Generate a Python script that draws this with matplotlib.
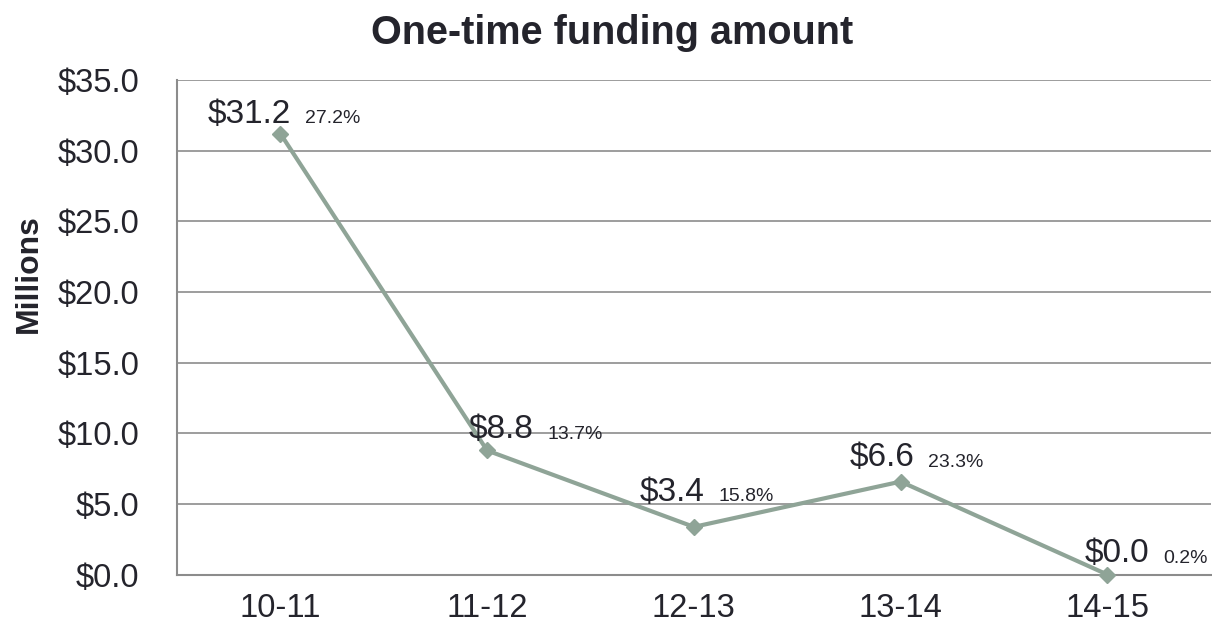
import matplotlib.pyplot as plt
from matplotlib.ticker import FuncFormatter

# One-time funding by fiscal year, in millions of dollars
years = ["10-11", "11-12", "12-13", "13-14", "14-15"]
amounts = [31.2, 8.8, 3.4, 6.6, 0.03]
shares = ["27.2%", "13.7%", "15.8%", "23.3%", "0.2%"]

# label offsets in points (left edge of value text, vertical centre)
label_dx = [-52.5, -13, -39, -37, -16.5]
label_dy = [14, 15, 25, 17, 15]

TEXT = "#24242c"
LINE = "#8fa497"
GRID = "#8c8c8c"

plt.rcParams["font.family"] = ["Liberation Sans", "DejaVu Sans"]

fig = plt.figure(figsize=(12.12, 6.28), dpi=100)
ax = fig.add_axes([0.146, 0.0844, 0.853, 0.7886])

x = list(range(len(years)))
ax.plot(x, amounts, color=LINE, linewidth=3, marker="D", markersize=8,
        zorder=3, clip_on=False)

for i, (v, s) in enumerate(zip(amounts, shares)):
    t = ax.annotate(f"${v:.1f}", (i, v), xytext=(label_dx[i], label_dy[i]),
                    textcoords="offset points", ha="left", va="center",
                    fontsize=24, color=TEXT)
    # percentage share sits just right of the value, on the same baseline
    ax.annotate(s, (1, 0.2), xycoords=t, xytext=(10, 0),
                textcoords="offset points", ha="left", va="baseline",
                fontsize=14, color=TEXT)

ax.set_xlim(-0.5, len(years) - 0.5)
ax.set_ylim(0, 35)
ax.set_yticks([0, 5, 10, 15, 20, 25, 30, 35])
ax.yaxis.set_major_formatter(FuncFormatter(lambda v, p: f"${v:.1f}"))
ax.set_xticks(x)
ax.set_xticklabels(years)

ax.tick_params(axis="both", labelsize=23.5, colors=TEXT, length=0)
ax.tick_params(axis="y", pad=27)
ax.tick_params(axis="x", pad=13)
ax.grid(axis="y", color=GRID, linewidth=1.2)
ax.set_axisbelow(True)
for side in ["top", "right"]:
    ax.spines[side].set_visible(False)
ax.spines["left"].set_color(GRID)
ax.spines["bottom"].set_color(GRID)
ax.spines["left"].set_linewidth(1.5)
ax.spines["bottom"].set_linewidth(1.5)

fig.text(0.505, 0.948, "One-time funding amount", ha="center", va="center",
         fontsize=28.5, fontweight="bold", color=TEXT)
fig.text(0.024, 0.565, "Millions", rotation=90, ha="center", va="center",
         fontsize=23, fontweight="bold", color=TEXT)

fig.savefig("out.png", dpi=100)
